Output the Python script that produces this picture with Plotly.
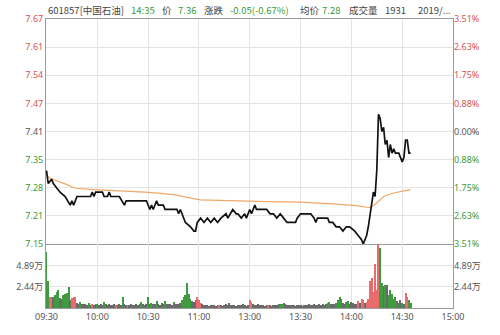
import plotly.graph_objects as go

# ---------------- data ----------------
time_ticks = [0, 30, 60, 90, 120, 150, 180, 210, 240]
time_labels = ["09:30", "10:00", "10:30", "11:00", "13:00", "13:30", "14:00", "14:30", "15:00"]

price_min = [0, 1, 3, 4, 8, 11, 14, 15, 16, 18, 26, 27, 28, 29, 33, 34, 36, 37, 38, 43,
             46, 47, 53, 59, 61, 62, 63, 64, 65, 66, 69, 70, 77, 78, 79, 80, 82, 85, 87, 88,
             89, 91, 93, 95, 97, 99, 101, 103, 106, 107, 110, 112, 113, 115, 117, 118, 120, 121, 123, 124,
             130, 132, 134, 136, 138, 140, 142, 144, 147, 148, 150, 156, 158, 159, 160, 162, 166, 167, 169, 171,
             173, 175, 177, 179, 182, 184, 186, 187, 188, 189, 190, 191, 192, 193, 194, 195, 196, 197, 198, 199,
             200, 201, 202, 203, 204, 205, 206, 208, 210, 211, 212, 213, 214, 215]
price_val = [7.32, 7.29, 7.30, 7.29, 7.27, 7.26, 7.24, 7.25, 7.24, 7.26, 7.26, 7.27, 7.26, 7.27, 7.27, 7.26, 7.26, 7.27, 7.26, 7.26,
             7.24, 7.25, 7.25, 7.25, 7.23, 7.24, 7.23, 7.24, 7.25, 7.24, 7.24, 7.23, 7.23, 7.22, 7.23, 7.22, 7.20, 7.19, 7.18, 7.18,
             7.20, 7.21, 7.20, 7.21, 7.20, 7.21, 7.20, 7.21, 7.22, 7.21, 7.23, 7.22, 7.22, 7.21, 7.22, 7.21, 7.23, 7.22, 7.24, 7.23,
             7.23, 7.22, 7.22, 7.21, 7.22, 7.21, 7.20, 7.20, 7.20, 7.21, 7.22, 7.22, 7.21, 7.20, 7.21, 7.21, 7.21, 7.20, 7.20, 7.19,
             7.19, 7.18, 7.19, 7.19, 7.18, 7.17, 7.16, 7.15, 7.16, 7.17, 7.19, 7.22, 7.25, 7.27, 7.26, 7.32, 7.45, 7.44, 7.41, 7.42,
             7.38, 7.39, 7.35, 7.38, 7.36, 7.37, 7.36, 7.36, 7.34, 7.35, 7.39, 7.39, 7.36, 7.36]

avg_min = [0, 2, 11, 17, 28, 48, 58, 68, 77, 83, 91, 130, 150, 169, 179, 183, 191, 195, 199, 205, 211, 215]
avg_val = [7.31, 7.302, 7.289, 7.279, 7.276, 7.273, 7.270, 7.267, 7.263, 7.258, 7.252, 7.248, 7.247, 7.243,
           7.239, 7.239, 7.234, 7.245, 7.260, 7.268, 7.273, 7.276]

# volume per minute (万), index = minutes since 09:30 (lunch break removed)
volume = [6.45, 3.1, 1.3, 1.3, 1.2, 1.5, 1.8, 2.0, 1.1, 1.0,
          1.5, 1.6, 1.7, 2.4, 0.9, 1.1, 1.3, 1.2, 0.55, 0.45,
          0.7, 0.45, 0.5, 0.4, 0.35, 0.55, 0.3, 0.5, 0.35, 0.4,
          0.45, 0.3, 0.5, 0.35, 0.7, 0.4, 0.3, 0.45, 0.3, 0.35,
          0.4, 0.3, 0.35, 0.4, 0.3, 1.3, 0.4, 0.3, 0.35, 0.3,
          0.4, 0.35, 0.3, 0.45, 0.35, 0.5, 0.7, 0.4, 0.35, 0.5,
          1.2, 0.5, 0.6, 0.4, 0.45, 0.8, 0.5, 0.35, 0.6, 0.4,
          0.8, 0.45, 0.4, 0.5, 0.35, 0.7, 0.5, 0.4, 0.45, 0.6,
          0.9, 1.3, 1.5, 2.85, 1.6, 1.0, 0.8, 0.7, 0.9, 1.2,
          0.9, 0.6, 0.4, 0.3, 0.35, 0.3, 0.25, 0.3, 0.35, 0.3,
          0.25, 0.3, 0.35, 0.3, 0.25, 0.3, 0.4, 0.3, 0.55, 0.3,
          0.35, 0.3, 0.25, 0.3, 0.35, 0.3, 0.4, 0.3, 0.25, 0.35,
          0.9, 0.7, 0.4, 0.35, 0.3, 0.4, 0.3, 0.35, 0.3, 0.25,
          0.3, 0.35, 0.3, 0.25, 0.3, 0.35, 0.3, 0.4, 0.45, 0.5,
          0.55, 0.4, 0.35, 0.3, 0.3, 0.35, 0.3, 0.25, 0.3, 0.35,
          0.3, 0.25, 0.3, 0.35, 0.3, 0.4, 0.3, 0.35, 0.4, 0.3,
          0.35, 0.4, 0.3, 0.45, 0.35, 0.5, 0.6, 0.7, 0.45, 0.4,
          0.5, 0.6, 0.9, 1.3, 1.0, 0.6, 0.4, 0.7, 0.8, 0.5,
          0.7, 0.6, 0.5, 0.4, 0.8, 0.6, 1.0, 0.9, 0.6, 0.7,
          1.0, 3.1, 3.4, 1.8, 5.0, 2.0, 7.4, 6.85, 2.8, 2.5,
          2.6, 2.6, 1.5, 2.0, 1.6, 1.0, 1.3, 0.8, 0.6, 0.9,
          0.6, 0.5, 1.7, 1.3, 0.9, 0.6]
vol_dir = ("ggrrkgggkk" "ggggkrrrkk" "gkkkkgkrkk" "gkkkgkkkkk" "krkkkgkkrk"
           "kkkkkkgkkk" "gkgkkgkkkk" "gkkkkgkkkk" "ggggggkkkr" "rrkkkkkkkk"
           "kkrkkkkkkk" "kkkkkkkkkk" "rrkkkkkkkk" "krkkkkkkgg" "gkkkkkkkkk"
           "kkkkkkkkkk" "kkkkkkggkk" "kggggkkggk" "kkkkrkrrkr" "rrrrrrrggk"
           "gkgggggkgk" "gkrrgg")

price_ticks = [7.15, 7.215, 7.28, 7.345, 7.41, 7.475, 7.54, 7.605, 7.67]
price_labels = ["7.15", "7.21", "7.28", "7.35", "7.41", "7.47", "7.54", "7.61", "7.67"]
pct_labels = ["3.51%", "2.63%", "1.75%", "0.88%", "0.00%", "0.88%", "1.75%", "2.63%", "3.51%"]
vol_ticks = [2.44, 4.89]
vol_labels = ["2.44万", "4.89万"]

header = [("601857[中国石油]", "#444"), ("14:35", "g"), ("价", "#444"), ("7.36", "g"),
          ("涨跌", "#444"), ("-0.05(-0.67%)", "g"), ("均价", "#444"), ("7.28", "g"),
          ("成交量", "#444"), ("1931", "#444"), ("2019/...", "#444")]
header_x = [46, 129, 160, 176, 202, 228, 298, 320, 347, 383, 416]

# ---------------- styling ----------------
RED = "#d9534f"
GREEN = "#3a9a3a"
GRAY = "#555555"
BAR = {"r": "#ea6b6b", "g": "#3f9b3f", "k": "#6a6a6a"}
FONT = "Noto Sans, Noto Sans CJK SC, sans-serif"

def colored(labels, mid):
    out = []
    for i, t in enumerate(labels):
        c = GREEN if i < mid else (GRAY if i == mid else RED)
        out.append(f"<span style='color:{c}'>{t}</span>")
    return out

W, H = 500, 335
L, R, T, B = 46, 47, 17, 15
ph = H - T - B
split = (320 - 253) / ph

fig = go.Figure()
fig.add_trace(go.Bar(x=list(range(len(volume))), y=volume, xaxis="x2", yaxis="y2",
                     marker=dict(color=[BAR[c] for c in vol_dir], line=dict(width=0)),
                     width=0.62, hoverinfo="skip"))
fig.add_trace(go.Scatter(x=avg_min, y=avg_val, mode="lines", xaxis="x", yaxis="y",
                         line=dict(color="#f0a868", width=1.2), hoverinfo="skip"))
fig.add_trace(go.Scatter(x=price_min, y=price_val, mode="lines", xaxis="x", yaxis="y",
                         line=dict(color="#111111", width=1.7), hoverinfo="skip"))
# invisible traces to activate right axes
fig.add_trace(go.Scatter(x=[0], y=[7.41], xaxis="x", yaxis="y3", mode="markers",
                         marker=dict(opacity=0), hoverinfo="skip"))
fig.add_trace(go.Scatter(x=[0], y=[0], xaxis="x2", yaxis="y4", mode="markers",
                         marker=dict(opacity=0), hoverinfo="skip"))

grid = "#e4e4e4"
frame = "#9a9a9a"
xr = [-0.3, 240]
common_x = dict(range=xr, tickvals=time_ticks, showgrid=True, gridcolor=grid, gridwidth=1,
                zeroline=False, ticks="", fixedrange=True)

fig.update_layout(
    width=W, height=H, margin=dict(l=L, r=R, t=T, b=B),
    paper_bgcolor="white", plot_bgcolor="white", showlegend=False,
    font=dict(family=FONT, size=9, color=GRAY),
    bargap=0,
    xaxis=dict(**common_x, domain=[0, 1], anchor="y", showticklabels=False,
               showline=True, linecolor=frame, linewidth=1, mirror=True),
    xaxis2=dict(**common_x, domain=[0, 1], anchor="y2", ticktext=time_labels,
                showticklabels=True, tickfont=dict(size=9, color=GRAY),
                showline=True, linecolor=frame, linewidth=1, mirror=False),
    yaxis=dict(domain=[split, 1], range=[7.15, 7.67], tickvals=price_ticks,
               ticktext=colored(price_labels, 4), showgrid=True, gridcolor=grid,
               zeroline=False, ticks="", showline=True, linecolor=frame, linewidth=1,
               mirror=True, tickfont=dict(size=9), anchor="x"),
    yaxis3=dict(domain=[split, 1], range=[7.15, 7.67], tickvals=price_ticks,
                ticktext=colored(pct_labels, 4), overlaying="y", side="right",
                showgrid=False, zeroline=False, ticks="", tickfont=dict(size=9), anchor="x"),
    yaxis2=dict(domain=[0, split], range=[0, 7.33], tickvals=vol_ticks, ticktext=vol_labels,
                showgrid=True, gridcolor=grid, zeroline=False, ticks="",
                showline=True, linecolor=frame, linewidth=1, mirror=True,
                tickfont=dict(size=9, color=GRAY), anchor="x2"),
    yaxis4=dict(domain=[0, split], range=[0, 7.33], tickvals=vol_ticks, ticktext=vol_labels,
                overlaying="y2", side="right", showgrid=False, zeroline=False, ticks="",
                tickfont=dict(size=9, color=GRAY), anchor="x2"),
)

pw = W - L - R
for (txt, col), px in zip(header, header_x):
    fig.add_annotation(xref="paper", yref="paper", x=(px - L) / pw, y=1 + (T - 8) / ph,
                       xanchor="left", yanchor="middle", showarrow=False, text=txt,
                       font=dict(size=9.5, color=GREEN if col == "g" else col,
                                 family="Noto Sans CJK SC, sans-serif"))

fig.write_html("out.html", config={"displayModeBar": False})
